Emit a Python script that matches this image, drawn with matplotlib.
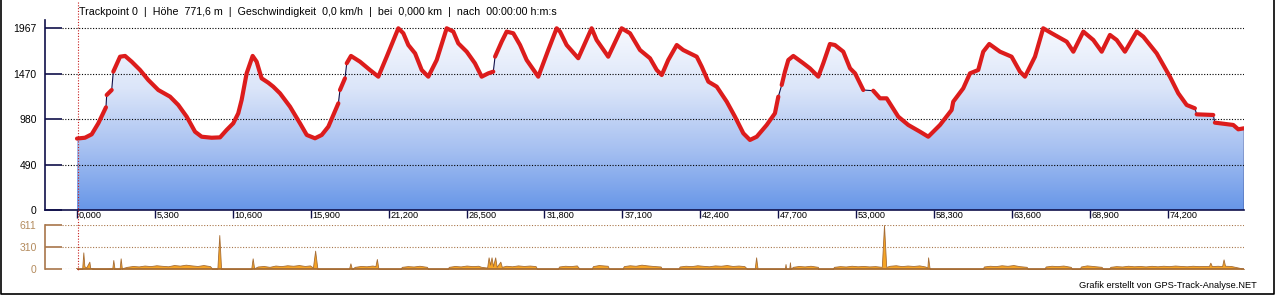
import numpy as np
import matplotlib
matplotlib.use('Agg')
import matplotlib.pyplot as plt
import matplotlib.transforms as mtrans
from matplotlib.lines import Line2D
from matplotlib.colors import LinearSegmentedColormap

# elevation profile (km, m)
dist_km = [0.00, 0.54, 1.00, 1.45, 1.97, 2.02, 2.36, 2.47, 2.93, 3.27, 3.72, 4.29, 4.85,
           5.53, 6.33, 6.89, 7.46, 8.03, 8.48, 9.16, 9.73, 10.18, 10.63, 10.97, 11.20,
           11.54, 11.95, 12.22, 12.56, 13.01, 13.35, 13.81, 14.49, 15.17, 15.63, 16.19,
           16.65, 17.10, 17.78, 17.89, 18.23, 18.35, 18.64, 19.25, 19.93, 20.50, 21.07,
           21.86, 22.20, 22.54, 23.00, 23.45, 23.90, 24.47, 25.15, 25.60, 25.94, 26.51,
           27.07, 27.53, 27.98, 28.32, 28.44, 28.89, 29.23, 29.68, 30.14, 30.59, 31.38,
           32.06, 32.63, 32.86, 33.31, 34.10, 35.01, 35.35, 36.14, 37.05, 37.62, 38.30,
           38.98, 39.44, 39.78, 40.22, 40.80, 41.24, 42.16, 42.50, 42.95, 43.52, 44.20,
           44.76, 45.33, 45.78, 46.24, 46.92, 47.48, 47.71, 47.94, 48.16, 48.39, 48.73,
           49.41, 49.86, 50.43, 50.77, 51.22, 51.56, 52.13, 52.59, 52.93, 53.49, 54.17,
           54.63, 55.08, 55.87, 56.55, 57.35, 57.91, 58.71, 59.50, 59.61, 60.29, 60.75,
           61.31, 61.65, 62.06, 62.79, 63.58, 64.15, 64.49, 65.17, 65.73, 66.31, 67.33,
           67.78, 68.46, 69.14, 69.71, 70.27, 70.73, 71.29, 72.09, 72.54, 73.45, 74.35,
           74.92, 75.49, 76.05, 76.17, 77.30, 77.41, 78.66, 79.00, 79.39]
elev_m = [772, 781, 818, 937, 1110, 1243, 1297, 1495, 1657, 1665, 1603, 1513, 1405,
          1297, 1225, 1135, 1009, 846, 792, 781, 785, 865, 937, 1045, 1189,
          1477, 1665, 1603, 1423, 1376, 1333, 1261, 1117, 937, 811, 775,
          811, 901, 1153, 1297, 1423, 1586, 1665, 1603, 1513, 1441, 1657,
          1964, 1910, 1783, 1693, 1513, 1441, 1621, 1964, 1928, 1801, 1711,
          1586, 1441, 1477, 1495, 1657, 1819, 1928, 1910, 1783, 1621, 1441,
          1729, 1964, 1928, 1783, 1640, 1964, 1837, 1657, 1964, 1910, 1729,
          1640, 1513, 1459, 1621, 1783, 1729, 1657, 1549, 1387, 1333, 1171,
          1009, 829, 757, 792, 919, 1045, 1225, 1351, 1495, 1621, 1665,
          1586, 1531, 1441, 1586, 1794, 1783, 1711, 1531, 1477, 1297, 1289,
          1207, 1207, 1009, 919, 846, 792, 919, 1081, 1171, 1315, 1477,
          1513, 1711, 1794, 1711, 1657, 1495, 1441, 1657, 1964, 1910, 1819,
          1711, 1928, 1837, 1711, 1892, 1837, 1711, 1928, 1873, 1693, 1441,
          1261, 1135, 1099, 1034, 1027, 944, 919, 872, 883]
# track gaps (red line interrupted after these km)
gap_after_km = [1.97, 2.36, 17.78, 18.23, 28.32, 47.71, 53.49, 76.05, 77.30]

# speed (km, km/h)
speed_km = [0.0, 0.35, 0.43, 0.50, 0.62, 0.84, 0.90, 1.2, 2.0, 2.40, 2.47, 2.55, 2.9, 2.97,
            3.05, 3.4, 3.8, 4.2, 4.6, 5.0, 5.4, 5.8, 6.2, 6.6, 7.0, 7.4, 7.8, 8.2, 8.6,
            9.05, 9.2, 9.55, 9.68, 9.80, 10.0, 11.85, 11.95, 12.05, 12.3, 12.7, 13.1,
            13.5, 13.9, 14.3, 14.7, 15.1, 15.5, 15.85, 16.05, 16.2, 16.35, 16.5, 18.5,
            18.6, 18.7, 18.9, 19.3, 19.7, 20.1, 20.3, 20.4, 20.5, 20.6, 22.0, 22.1,
            22.5, 22.9, 23.3, 23.8, 23.9, 25.2, 25.3, 25.7, 26.1, 26.5, 26.9, 27.3,
            27.5, 27.9, 28.0, 28.1, 28.2, 28.3, 28.45, 28.55, 28.8, 28.9, 29.2, 29.6,
            30.0, 30.4, 30.8, 31.2, 31.3, 32.7, 32.8, 33.2, 33.6, 34.0, 34.2, 35.0,
            35.1, 35.5, 36.1, 36.2, 37.1, 37.2, 37.6, 38.0, 38.4, 38.8, 39.2, 39.7,
            39.8, 40.9, 41.0, 41.4, 41.8, 42.2, 42.6, 43.0, 43.4, 43.8, 44.2, 44.6,
            45.0, 45.4, 45.6, 46.1, 46.2, 46.3, 48.15, 48.2, 48.25, 48.45, 48.5, 48.55,
            48.7, 49.1, 49.5, 49.9, 50.4, 50.45, 51.4, 51.5, 51.9, 52.3, 52.7, 53.1,
            53.5, 53.9, 54.3, 54.75, 54.9, 55.05, 55.3, 55.7, 56.1, 56.5, 56.9, 57.3,
            57.7, 57.85, 57.9, 58.0, 58.1, 61.6, 61.7, 62.1, 62.5, 62.9, 63.3, 63.7,
            64.1, 64.6, 64.7, 65.8, 65.9, 66.3, 66.7, 67.1, 67.6, 67.7, 68.2, 68.3,
            68.7, 69.1, 69.7, 69.8, 70.2, 70.3, 70.7, 71.1, 71.5, 71.9, 72.3, 72.7,
            73.1, 73.5, 73.9, 74.3, 74.7, 75.1, 75.5, 75.9, 76.3, 76.7, 77.0, 77.1,
            77.2, 77.6, 77.9, 78.0, 78.1, 78.5, 79.0, 79.39]
speed_kmh = [0, 0, 231, 40, 20, 102, 15, 5, 5, 10, 125, 5, 5, 148,
             10, 30, 42, 36, 48, 40, 52, 44, 38, 55, 47, 60, 50, 42, 55,
             40, 5, 10, 472, 10, 0, 0, 148, 10, 35, 42, 30,
             48, 40, 52, 45, 55, 42, 50, 20, 255, 10, 0, 0,
             79, 0, 30, 42, 38, 48, 40, 139, 10, 0, 0, 30,
             40, 35, 45, 30, 0, 0, 30, 42, 36, 48, 40, 45,
             30, 20, 162, 60, 162, 40, 162, 30, 102, 30, 45, 38,
             50, 42, 48, 40, 0, 0, 35, 45, 40, 50, 0, 0,
             40, 55, 45, 0, 0, 40, 52, 45, 60, 50, 42, 35,
             0, 0, 35, 45, 40, 52, 44, 38, 50, 45, 55, 42,
             48, 40, 0, 0, 162, 0, 0, 69, 0, 0, 93, 0,
             30, 42, 36, 45, 30, 0, 0, 30, 40, 35, 45, 38,
             42, 36, 40, 30, 611, 30, 45, 52, 40, 48, 42, 50,
             35, 20, 162, 10, 0, 0, 35, 45, 40, 52, 44, 55,
             40, 30, 0, 0, 35, 45, 40, 48, 30, 0, 0, 35,
             50, 42, 30, 0, 0, 30, 40, 35, 45, 38, 42, 36,
             44, 38, 45, 40, 48, 42, 38, 45, 40, 42, 40, 88,
             40, 45, 40, 134, 45, 42, 20, 0]

x_ticks = [0, 5.3, 10.6, 15.9, 21.2, 26.5, 31.8, 37.1, 42.4, 47.7, 53.0, 58.3, 63.6, 68.9, 74.2]
x_labels = ["0,000", "5,300", "10,600", "15,900", "21,200", "26,500", "31,800", "37,100",
            "42,400", "47,700", "53,000", "58,300", "63,600", "68,900", "74,200"]
elev_ticks = [0, 490, 980, 1470, 1967]
speed_ticks = [0, 310, 611]
header = "Trackpoint 0  |  Höhe  771,6 m  |  Geschwindigkeit  0,0 km/h  |  bei  0,000 km  |  nach  00:00:00 h:m:s"
footer = "Grafik erstellt von GPS-Track-Analyse.NET"

plt.rcParams['font.family'] = ['Liberation Sans', 'DejaVu Sans']

W, H = 1275, 295
PX_PER_KM = 14.70
NAVY = '#10104a'
BROWN = '#a8764a'

def box(l, t, r, b):
    return [l / W, 1 - b / H, (r - l) / W, (b - t) / H]

fig = plt.figure(figsize=(W / 100, H / 100), dpi=100)
fig.patch.set_facecolor('white')

x = np.array(dist_km)
y = np.array(elev_m)
xmin = -32 / PX_PER_KM
xmax = x[-1]
gx0 = -15 / PX_PER_KM

# --- elevation panel
ax = fig.add_axes(box(45, 20, 1244, 210))
cmap = LinearSegmentedColormap.from_list('sky', ['#6796e8', '#a6c0f1', '#dbe5f9', '#f7f9fe'])
grad = np.linspace(0, 1, 256).reshape(-1, 1)
im = ax.imshow(grad, extent=[x[0], x[-1], 0, 1967], origin='lower', aspect='auto',
               cmap=cmap, zorder=1)
poly = ax.fill_between(x, y, 0, facecolor='none', edgecolor='none')
im.set_clip_path(poly.get_paths()[0], transform=ax.transData)

for v in elev_ticks[1:]:
    ax.plot([gx0, xmax], [v, v], color='black', ls=(0, (1, 1.5)), lw=0.8, zorder=2)

ax.plot(x, y, color=NAVY, lw=0.8, zorder=3)
ax.plot([x[-1], x[-1]], [0, y[-1]], color=NAVY, lw=1, zorder=3)

cuts = [0] + [int(np.argmin(np.abs(x - g))) + 1 for g in gap_after_km] + [len(x)]
for a, b in zip(cuts[:-1], cuts[1:]):
    ax.plot(x[a:b], y[a:b], color='#dc1c1c', lw=3, solid_capstyle='round',
            solid_joinstyle='round', zorder=4)

ax.set_xlim(xmin, xmax)
ax.set_ylim(0, 1967 * 190 / 182)
for s in ['top', 'right']:
    ax.spines[s].set_visible(False)
for s in ['left', 'bottom']:
    ax.spines[s].set_color(NAVY)
    ax.spines[s].set_linewidth(1.2)
ax.set_yticks(elev_ticks, [str(v) for v in elev_ticks])
ax.tick_params(axis='y', direction='in', length=12.5, width=1.2, color=NAVY, pad=6,
               labelsize=7.5)
ax.set_xticks(x_ticks, x_labels)
ax.tick_params(axis='x', direction='out', length=6, width=1, color=NAVY, pad=-5.5,
               labelsize=6.6)
off = mtrans.ScaledTranslation(2 / 100, 0, fig.dpi_scale_trans)
for lbl in ax.get_xticklabels():
    lbl.set_ha('left')
    lbl.set_transform(lbl.get_transform() + off)

# --- speed panel
ax2 = fig.add_axes(box(45, 225, 1244, 269))
ax2.fill_between(speed_km, speed_kmh, 0, facecolor='#f6a425', edgecolor='#a66d36',
                 lw=0.6, zorder=3)
for v in speed_ticks[1:]:
    ax2.plot([gx0, xmax], [v, v], color=BROWN, ls=(0, (1, 1.5)), lw=0.8, zorder=2)
ax2.plot([gx0, 0], [0, 0], color=BROWN, ls=(0, (1, 1.5)), lw=0.8, zorder=2)
ax2.plot([0, xmax], [0, 0], color='#a66d36', lw=1.3, zorder=4)
ax2.set_xlim(xmin, xmax)
ax2.set_ylim(0, 611)
for s in ['top', 'right', 'bottom']:
    ax2.spines[s].set_visible(False)
ax2.spines['left'].set_color(BROWN)
ax2.spines['left'].set_linewidth(1.2)
ax2.set_xticks([])
ax2.set_yticks(speed_ticks, [str(v) for v in speed_ticks])
ax2.tick_params(axis='y', direction='in', length=12.5, width=1.2, color=BROWN, pad=6,
                labelsize=7.5, labelcolor='#b38a5c')

# cursor line, texts, border
fig.add_artist(Line2D([77.5 / W, 77.5 / W], [1 - 2 / H, 1 - 270 / H], color='#c81e1e',
                      ls=(0, (1, 1.5)), lw=0.8))
fig.text(79 / W, 1 - 12 / H, header, fontsize=7.7, va='center')
fig.text(1257 / W, 1 - 285 / H, footer, fontsize=6.7, ha='right', va='center')
fig.add_artist(Line2D([0.5 / W, 0.5 / W, 1274 / W, 1274 / W], [1, 1.5 / H, 1.5 / H, 1],
                      color='black', lw=1.2))

fig.savefig('out.png', dpi=100)
